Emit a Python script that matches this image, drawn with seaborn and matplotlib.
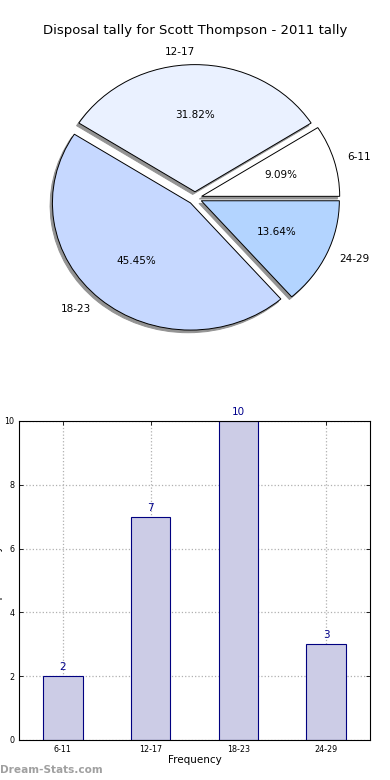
import numpy as np
import pandas as pd
import seaborn as sns
import matplotlib
matplotlib.use('Agg')
import matplotlib.pyplot as plt

categories = ['6-11', '12-17', '18-23', '24-29']
tally = [2, 7, 10, 3]
pie_colors = ['#ffffff', '#eaf1ff', '#c6d8ff', '#b3d4ff']
title = 'Disposal tally for Scott Thompson - 2011 tally'

df = pd.DataFrame({'range': categories, 'tally': tally})

fig = plt.figure(figsize=(3.9, 7.8), dpi=100)

# pie on top
ax1 = fig.add_axes([0.146, 0.583, 0.708, 0.326])
wedges, texts, autotexts = ax1.pie(df['tally'], labels=df['range'], colors=pie_colors,
                                   explode=[0.05] * 4,
                                   shadow={'ox': -0.012, 'oy': -0.015, 'alpha': 1,
                                           'facecolor': '#939393', 'edgecolor': '#939393'},
                                   autopct='%1.2f%%',
                                   startangle=0, labeldistance=1.1, pctdistance=0.6,
                                   wedgeprops={'edgecolor': 'black', 'linewidth': 0.7},
                                   textprops={'fontsize': 7.5})
ax1.set_aspect('auto')
ax1.set_xlim(-1, 1)
ax1.set_ylim(-1, 1)
for w in wedges:
    w.set_clip_on(False)
ax1.set_axis_off()
fig.text(0.5, 0.961, title, ha='center', va='center', fontsize=9.5)

# bar chart below
ax2 = fig.add_axes([0.0487, 0.0513, 0.9, 0.409])
sns.barplot(data=df, x='range', y='tally', ax=ax2, color='#ccccE6', saturation=1,
            width=0.45, edgecolor='#000080', linewidth=0.8, zorder=2)
ax2.set_xlim(-0.5, 3.5)
ax2.set_ylim(0, 10)
ax2.set_yticks([0, 2, 4, 6, 8, 10])
ax2.grid(True, linestyle=':', color='#b0b0b0', linewidth=0.9, zorder=0)
ax2.set_axisbelow(True)
ax2.tick_params(labelsize=5.8, direction='in', top=True, right=True, length=3, width=0.6)
ax2.set_xlabel('Frequency', fontsize=7.5, labelpad=1)
ax2.set_ylabel('')
for s in ax2.spines.values():
    s.set_linewidth(0.8)
for i, v in enumerate(tally):
    ax2.text(i, v + 0.12, str(v), ha='center', va='bottom', fontsize=7.5, color='#00008b')

fig.text(-0.006, 0.256, 'Disposal Tally', rotation=90, ha='center', va='center', fontsize=7.5)
fig.text(0.0, 0.013, 'Dream-Stats.com', ha='left', va='center', fontsize=7.6,
         fontweight='bold', color='#a0a0a0')

fig.savefig('out.png', dpi=100)
